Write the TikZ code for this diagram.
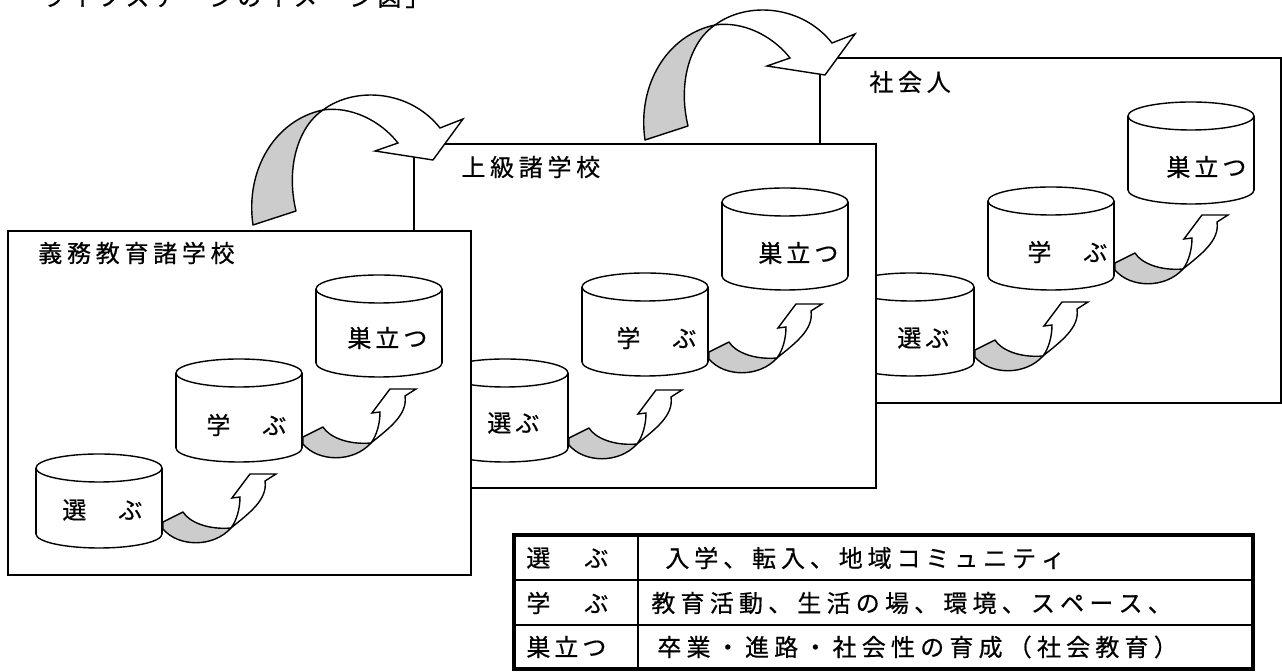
\documentclass[tikz,border=0pt]{standalone}
\usepackage{fontspec}
\newfontfamily\jp[FakeBold=0.5]{Noto Sans CJK JP}
\definecolor{shade}{HTML}{CCCCCC}
\makeatletter
\newcommand\spaced[2]{\@tfor\sp@ch:=#2\do{\sp@ch\kern#1}}
\makeatother
\tikzset{
  frameline/.style={line width=0.7pt},
  boxframe/.style={draw, fill=white, line width=0.7pt},
  jptext/.style={inner sep=0pt, font=\jp\fontsize{12pt}{14pt}\selectfont},
  lbl/.style={jptext, anchor=west},
  backside/.style={fill=shade, draw=black, line width=0.7pt, line join=round},
  frontside/.style={fill=white, draw=black, line width=0.7pt, line join=miter},
  tabline/.style={line width=1pt},
  tabouter/.style={line width=1.6pt}
}
% cylinder: #1 left x, #2 top y, #3 bottom y
\newcommand\drum[3]{%
  \filldraw[fill=white,frameline] (#1+63,#3-14) ellipse[x radius=63,y radius=14];
  \fill[white] (#1,#2+14) rectangle (#1+126,#3-14);
  \draw[frameline] (#1,#2+14) -- (#1,#3-14) (#1+126,#2+14) -- (#1+126,#3-14);
  \filldraw[fill=white,frameline] (#1+63,#2+14) ellipse[x radius=63,y radius=14];
}
% small curled arrow, origin at the cylinder's right edge
\newcommand\curl[2]{%
  \begin{scope}[shift={(#1,#2)}]
    \path[backside] (0,0) -- (20,-10) .. controls (26,0) and (45,8) .. (68,6)
       .. controls (50,26) and (15,25) .. (0,7) -- cycle;
    \path[frontside] (68,6) .. controls (74,-2) and (77,-14) .. (77,-25)
       -- (69,-24) -- (87,-48) -- (113,-48) -- (102,-41)
       .. controls (105,-22) and (85,-8) .. (68,6) -- cycle;
  \end{scope}}
% big jumping arrow, origin at the tip of its shaded part
\newcommand\jump[2]{%
  \begin{scope}[shift={(#1,#2)}]
    \path[backside] (-70,115) .. controls (-78,60) and (-48,10) .. (0,0)
       .. controls (-23,15) and (-38,55) .. (-27,101) -- cycle;
    \path[frontside] (0,0) .. controls (32,-24) and (87,-20) .. (117,18)
       -- (140,9) -- (110,50) -- (52,41) -- (75,33)
       .. controls (57,10) and (27,-4) .. (0,0) -- cycle;
  \end{scope}}
\begin{document}
\begin{tikzpicture}[x=0.5pt,y=-0.5pt]
\useasboundingbox (0,0) rectangle (1282,672);
\clip (0,0) rectangle (1282,672);
\fill[white] (0,0) rectangle (1282,672);

\node[jptext, anchor=base west] (heading) at (41,6) {\spaced{2pt}{ライフステージのイメージ図」}};

% ---- stage 3: 社会人
\begin{scope}[shift={(820,58)}]
  \draw[boxframe] (0,0) rectangle (461,345);
  \node[lbl] (c-title) at (49,24) {\spaced{2.35pt}{社会人}};
  \drum{28}{215}{318}
  \drum{168}{129}{232}
  \drum{308}{44}{146}
  \node[lbl] (c-erabu) at (77,280) {\spaced{2pt}{選ぶ}};
  \node[lbl] (c-manabu) at (207,194) {\spaced{2pt}{学　ぶ}};
  \node[lbl] (c-sudatsu) at (346,109) {\spaced{2pt}{巣立つ}};
  \curl{155}{292}
  \curl{295}{205}
\end{scope}
\jump{715}{25}

% ---- stage 2: 上級諸学校
\begin{scope}[shift={(414,144)}]
  \draw[boxframe] (0,0) rectangle (462,344);
  \node[lbl] (b-title) at (47,23) {\spaced{2.35pt}{上級諸学校}};
  \drum{28}{215}{318}
  \drum{168}{129}{232}
  \drum{308}{44}{146}
  \node[lbl] (b-erabu) at (73,279) {\spaced{2pt}{選ぶ}};
  \node[lbl] (b-manabu) at (202,194) {\spaced{2pt}{学　ぶ}};
  \node[lbl] (b-sudatsu) at (344,109) {\spaced{2pt}{巣立つ}};
  \curl{155}{294}
  \curl{295}{208}
\end{scope}
\jump{323}{110}

% ---- stage 1: 義務教育諸学校
\begin{scope}[shift={(8,231)}]
  \draw[boxframe] (0,0) rectangle (463,344);
  \node[lbl] (a-title) at (30,22) {\spaced{2.35pt}{義務教育諸学校}};
  \drum{28}{223}{317}
  \drum{168}{128}{231}
  \drum{308}{44}{146}
  \node[lbl] (a-erabu) at (54,279) {\spaced{2pt}{選　ぶ}};
  \node[lbl] (a-manabu) at (198,194) {\spaced{2pt}{学　ぶ}};
  \node[lbl] (a-sudatsu) at (339,107) {\spaced{2pt}{巣立つ}};
  \curl{155}{291}
  \curl{295}{206}
\end{scope}

% ---- legend table
\draw[tabline] (514,580.5) -- (1253,580.5) (514,625.5) -- (1253,625.5) (638,535) -- (638,669);
\draw[tabouter] (514,535) rectangle (1253,669);
\node[lbl] (k1) at (526,558) {\spaced{2.5pt}{選　ぶ}};
\node[lbl] (k2) at (526,603) {\spaced{2.5pt}{学　ぶ}};
\node[lbl] (k3) at (526,647) {\spaced{2pt}{巣立つ}};
\node[lbl] (v1) at (665,558) {\spaced{2.45pt}{入学、転入、地域コミュニティ}};
\node[lbl] (v2) at (651,603) {\spaced{2.6pt}{教育活動、生活の場、環境、スペース、}};
\node[lbl] (v3) at (657,647) {\spaced{2.6pt}{卒業・進路・社会性の育成（社会教育）}};
\end{tikzpicture}
\end{document}
